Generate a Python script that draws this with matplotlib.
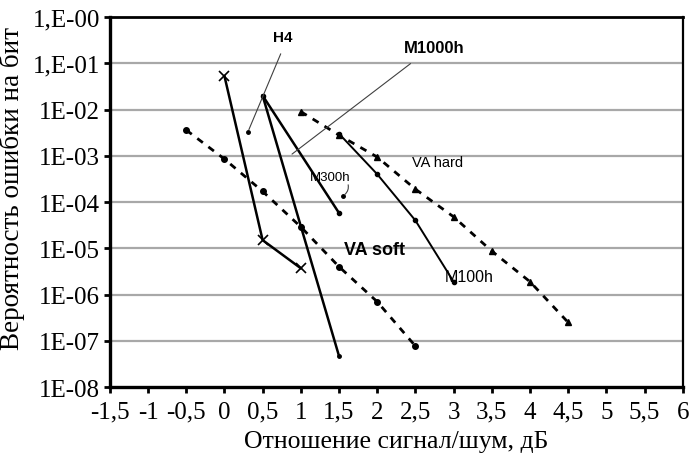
import matplotlib.pyplot as plt
import numpy as np

# BER curves vs Eb/N0
h4_x = [0, 0.5, 1]
h4_y = [5.3e-2, 1.5e-5, 3.7e-6]

m1000h_x = [0.5, 1, 1.5]
m1000h_y = [2e-2, 3e-5, 4.7e-8]

m300h_x = [0.5, 1.5]
m300h_y = [2e-2, 5.8e-5]

m100h_x = [1.5, 2, 2.5, 3]
m100h_y = [3e-3, 4e-4, 4e-5, 1.9e-6]

va_soft_x = [-0.5, 0, 0.5, 1, 1.5, 2, 2.5]
va_soft_y = [3.6e-3, 8.5e-4, 1.7e-4, 2.9e-5, 4e-6, 7e-7, 7.7e-8]

va_hard_x = [1, 1.5, 2, 2.5, 3, 3.5, 4, 4.5]
va_hard_y = [9e-3, 2.8e-3, 9.4e-4, 1.9e-4, 4.8e-5, 8.7e-6, 1.9e-6, 2.5e-7]

xticks = np.arange(-1.5, 6.01, 0.5)
xlabels = ['-1,5', '-1', '-0,5', '0', '0,5', '1', '1,5', '2', '2,5', '3',
           '3,5', '4', '4,5', '5', '5,5', '6']
yticks = [1e0, 1e-1, 1e-2, 1e-3, 1e-4, 1e-5, 1e-6, 1e-7, 1e-8]
ylabels = ['1,E-00', '1,E-01', '1E-02', '1E-03', '1E-04', '1E-05',
           '1E-06', '1E-07', '1E-08']

serif = 'Liberation Serif'
sans = 'Liberation Sans'

fig = plt.figure(figsize=(6.91, 4.56), dpi=100)
ax = fig.add_axes([0.159, 0.149, 0.829, 0.8115])
ax.set_yscale('log')
ax.set_xlim(-1.5, 6)
ax.set_ylim(1e-8, 1e0)

for yv in yticks[1:-1]:
    ax.axhline(yv, color='#a8a8a8', lw=1.6, zorder=1)

lw = 1.8
dash = (0, (2.5, 2.5))
ax.plot(h4_x, h4_y, '-', color='black', lw=lw, marker='x', ms=7, mew=1.2, zorder=3)
ax.plot(m1000h_x, m1000h_y, '-', color='black', lw=lw, marker='o', ms=2.5, zorder=3)
ax.plot(m300h_x, m300h_y, '-', color='black', lw=lw, marker='o', ms=3, zorder=3)
ax.plot(m100h_x, m100h_y, '-', color='black', lw=1.4, marker='o', ms=3, zorder=3)
ax.plot(va_soft_x, va_soft_y, color='black', lw=2, ls=dash,
        marker='o', ms=4, zorder=3)
ax.plot(va_hard_x, va_hard_y, color='black', lw=2, ls=dash,
        marker='^', ms=4.5, zorder=3)

# labels with leader lines
lead = dict(arrowstyle='-', color='#404040', lw=0.8)
ax.annotate('', xy=(0.306, 10**-2.49), xytext=(0.751, 10**-0.74),
            arrowprops=lead)
ax.plot([0.306], [10**-2.49], 'o', color='black', ms=2.5)
ax.annotate('', xy=(0.856, 10**-3.0), xytext=(2.466, 10**-0.97),
            arrowprops=lead)
ax.annotate('', xy=(1.55, 10**-3.87), xytext=(1.61, 10**-3.57),
            arrowprops=dict(arrowstyle='-', color='#404040', lw=0.8,
                            connectionstyle='arc3,rad=-0.4'))
ax.plot([1.55], [10**-3.87], 'o', color='black', ms=2.5)

ax.text(0.764, 10**-0.43, 'H4', fontsize=11, fontweight='bold',
        family=sans, ha='center', va='center')
ax.text(2.74, 10**-0.65, 'M1000h', fontsize=12, fontweight='bold',
        family=sans, ha='center', va='center')
ax.text(1.38, 10**-3.46, 'M300h', fontsize=9.5, family=sans,
        ha='center', va='center')
ax.text(2.79, 10**-3.13, 'VA hard', fontsize=10.5, family=sans,
        ha='center', va='center')
ax.text(1.97, 10**-5.02, 'VA soft', fontsize=13, fontweight='bold',
        family=sans, ha='center', va='center')
ax.text(3.21, 10**-5.6, 'M100h', fontsize=11.5, family=sans,
        ha='center', va='center')

ax.set_xticks(xticks)
ax.set_xticklabels(xlabels, family=serif, fontsize=18)
ax.set_yticks(yticks)
ax.set_yticklabels(ylabels, family=serif, fontsize=18)
ax.minorticks_off()
ax.tick_params(axis='both', direction='out', length=4, width=2)
ax.tick_params(axis='x', pad=6)
ax.tick_params(axis='y', pad=3)

ax.set_xlabel('Отношение сигнал/шум, дБ', family=serif, fontsize=18.5)
ax.set_ylabel('Вероятность ошибки на бит', family=serif, fontsize=19.5)
ax.xaxis.set_label_coords(0.499, -0.117)
ax.yaxis.set_label_coords(-0.148, 0.54)

ax.spines['left'].set_linewidth(2.4)
ax.spines['bottom'].set_linewidth(2.4)
ax.spines['top'].set_linewidth(2.0)
ax.spines['right'].set_linewidth(1.6)

fig.savefig('out.png', dpi=100)
